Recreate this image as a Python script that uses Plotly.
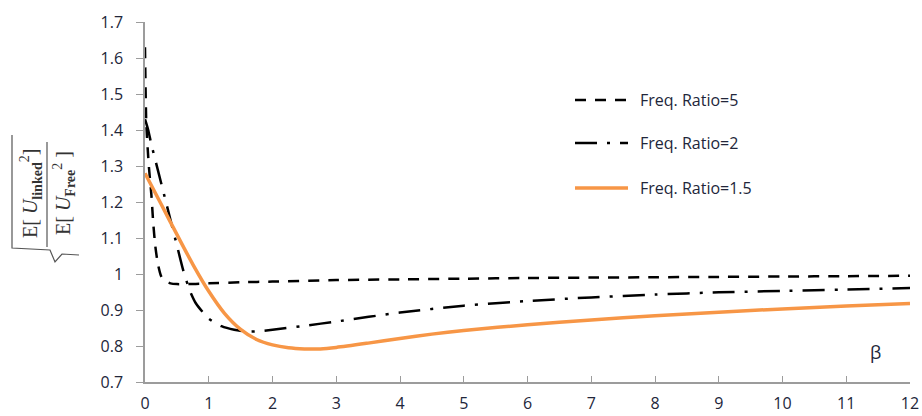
import plotly.graph_objects as go

# --- data -------------------------------------------------------------
beta_r5 = [0, 0.02, 0.06, 0.1, 0.13, 0.16, 0.2, 0.25, 0.3, 0.4, 0.5, 0.7,
           1, 1.5, 2, 3, 4, 5, 6, 7, 8, 9, 10, 11, 12]
ratio_r5 = [1.63, 1.42, 1.30, 1.22, 1.14, 1.08, 1.03, 0.995, 0.982, 0.974,
            0.972, 0.972, 0.974, 0.977, 0.979, 0.983, 0.985, 0.987, 0.989,
            0.990, 0.991, 0.992, 0.993, 0.994, 0.995]

beta_r2 = [0, 0.05, 0.1, 0.2, 0.3, 0.4, 0.5, 0.6, 0.7, 0.8, 1.0, 1.2, 1.4,
           1.6, 1.8, 2.0, 2.5, 3, 4, 5, 6, 7, 8, 9, 10, 11, 12]
ratio_r2 = [1.43, 1.40, 1.36, 1.29, 1.22, 1.15, 1.08, 1.01, 0.955, 0.918,
            0.876, 0.855, 0.845, 0.840, 0.841, 0.845, 0.856, 0.868, 0.893,
            0.912, 0.925, 0.935, 0.943, 0.949, 0.953, 0.957, 0.961]

beta_r15 = [0, 0.25, 0.5, 0.75, 1, 1.25, 1.5, 1.75, 2, 2.25, 2.5, 2.75, 3,
            3.5, 4, 4.5, 5, 6, 7, 8, 9, 10, 11, 12]
ratio_r15 = [1.28, 1.195, 1.11, 1.027, 0.952, 0.89, 0.846, 0.818, 0.803,
             0.795, 0.792, 0.792, 0.796, 0.808, 0.821, 0.833, 0.843, 0.859,
             0.872, 0.884, 0.894, 0.903, 0.911, 0.918]

series_names = ["Freq. Ratio=5", "Freq. Ratio=2", "Freq. Ratio=1.5"]
x_ticks = list(range(0, 13))
y_ticks = [0.7, 0.8, 0.9, 1.0, 1.1, 1.2, 1.3, 1.4, 1.5, 1.6, 1.7]
y_tick_text = ["0.7", "0.8", "0.9", "1", "1.1", "1.2", "1.3", "1.4", "1.5", "1.6", "1.7"]

# --- geometry helpers (pixel -> paper) --------------------------------
W, H = 922, 416
ML, MR, MT, MB = 145, 12, 22, 34
PW, PH = W - ML - MR, H - MT - MB


def px_x(p):
    return (p - ML) / PW


def px_y(p):
    return 1 - (p - MT) / PH


TEXT = "#22263a"
AXIS = "#9c9c9c"
ORANGE = "#F79646"
DASH5 = "11px,9px"
DASH2 = "22px,10px,3px,10px"
SANS = "Open Sans"

fig = go.Figure()
fig.add_trace(go.Scatter(x=beta_r5, y=ratio_r5, mode="lines", name=series_names[0],
                         line=dict(color="black", width=2.5, dash=DASH5,
                                   shape="spline", smoothing=0.6)))
fig.add_trace(go.Scatter(x=beta_r2, y=ratio_r2, mode="lines", name=series_names[1],
                         line=dict(color="black", width=2.5, dash=DASH2,
                                   shape="spline", smoothing=0.6)))
fig.add_trace(go.Scatter(x=beta_r15, y=ratio_r15, mode="lines", name=series_names[2],
                         line=dict(color=ORANGE, width=3.5,
                                   shape="spline", smoothing=0.8)))

shapes = []
annotations = []

# legend drawn by hand: line sample + label per series
legend_rows = [100, 143, 188]
legend_styles = [dict(color="black", width=2.5, dash=DASH5),
                 dict(color="black", width=2.5, dash=DASH2),
                 dict(color=ORANGE, width=3.5)]
for name, row, style in zip(series_names, legend_rows, legend_styles):
    shapes.append(dict(type="line", xref="paper", yref="paper",
                       x0=px_x(575), x1=px_x(628), y0=px_y(row), y1=px_y(row),
                       line=style))
    annotations.append(dict(text=name, xref="paper", yref="paper",
                            x=px_x(638), y=px_y(row), xanchor="left", yanchor="middle",
                            showarrow=False, font=dict(family=SANS, size=16, color=TEXT)))

# x-axis name inside the plot
annotations.append(dict(text="β", xref="paper", yref="paper", x=px_x(875), y=px_y(352),
                        xanchor="center", yanchor="middle", showarrow=False,
                        font=dict(family=SANS, size=18, color=TEXT)))

# y-axis title: sqrt( E[U_linked^2] / E[U_Free^2] ), rotated
serif = dict(family="Liberation Serif", size=20, color="#333333")
annotations.append(dict(text="E[ <i>U</i><sub><b>linked</b></sub><sup>2</sup>]",
                        xref="paper", yref="paper", x=px_x(31), y=px_y(194),
                        xanchor="center", yanchor="middle", textangle=-90,
                        showarrow=False, font=serif))
annotations.append(dict(text="E[ <i>U</i><sub><b>Free</b></sub><sup>2</sup> ]",
                        xref="paper", yref="paper", x=px_x(64), y=px_y(193),
                        xanchor="center", yanchor="middle", textangle=-90,
                        showarrow=False, font=serif))
# fraction bar
shapes.append(dict(type="line", xref="paper", yref="paper",
                   x0=px_x(47), x1=px_x(47), y0=px_y(142), y1=px_y(247),
                   line=dict(color="#555555", width=1.2)))
# radical sign
rad = [(12, 135), (12, 248), (50, 250), (55, 262), (62, 254), (79, 255)]
path = "M " + " L ".join(f"{px_x(a)},{px_y(b)}" for a, b in rad)
shapes.append(dict(type="path", xref="paper", yref="paper", path=path,
                   line=dict(color="#555555", width=1.2)))

fig.update_layout(
    width=W, height=H,
    margin=dict(l=ML, r=MR, t=MT, b=MB, autoexpand=False),
    paper_bgcolor="white", plot_bgcolor="white",
    showlegend=False,
    shapes=shapes, annotations=annotations,
    xaxis=dict(range=[0, 12], tickvals=x_ticks, ticks="inside", ticklen=6,
               tickcolor=AXIS, showline=True, linecolor=AXIS, linewidth=1.5,
               showgrid=False, zeroline=False, ticklabelstandoff=6,
               automargin=False,
               tickfont=dict(family=SANS, size=16, color=TEXT)),
    yaxis=dict(range=[0.7, 1.7], tickvals=y_ticks, ticktext=y_tick_text,
               ticks="outside", ticklen=7, tickcolor=AXIS, showline=True,
               linecolor=AXIS, linewidth=1.5, showgrid=False, zeroline=False,
               ticklabelstandoff=10, automargin=False,
               tickfont=dict(family=SANS, size=16, color=TEXT)),
)

fig.write_html("out.html")
